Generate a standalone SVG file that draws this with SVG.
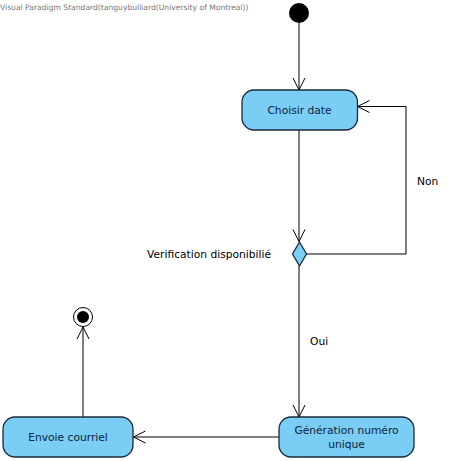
<svg xmlns="http://www.w3.org/2000/svg" width="453" height="461" viewBox="0 0 453 461">
<defs>
<style>
.node{fill:#7acdf4;stroke:#1a2a3a;stroke-width:1.3}
.lbl{font-family:"DejaVu Sans",sans-serif;font-size:10.7px;fill:#0d2340;text-anchor:middle}
.txt{font-family:"DejaVu Sans",sans-serif;font-size:10.7px;fill:#000}
.edge{fill:none;stroke:#000;stroke-width:1}
</style>
<marker id="arr" markerWidth="14" markerHeight="14" viewBox="-13 -7 14 14" refX="0" refY="0" orient="auto" markerUnits="userSpaceOnUse">
<path d="M-12,-6 L0,0 L-12,6" fill="none" stroke="#000" stroke-width="1"/>
</marker>
</defs>
<rect width="453" height="461" fill="#fff"/>
<text x="0" y="10" style="font-family:'DejaVu Sans',sans-serif;font-size:7.6px;fill:#777">Visual Paradigm Standard(tanguybulliard(University of Montreal))</text>
<g id="connectors">
<path class="edge" d="M299,23 L299,90" marker-end="url(#arr)"/>
<path class="edge" d="M299,130 L299,241.5" marker-end="url(#arr)"/>
<path class="edge" d="M306.5,254 L406,254 L406,106.5 L357.5,106.5" marker-end="url(#arr)"/>
<path class="edge" d="M299,266 L299,417" marker-end="url(#arr)"/>
<path class="edge" d="M279,437 L133.5,437" marker-end="url(#arr)"/>
<path class="edge" d="M83,417 L83,327" marker-end="url(#arr)"/>
<text class="txt" x="417" y="185">Non</text>
<text class="txt" x="310" y="345">Oui</text>
</g>
<g id="start"><circle cx="299" cy="13" r="10" fill="#000"/></g>
<g id="choisir">
<rect class="node" x="242" y="90" width="115.5" height="40" rx="12"/>
<text class="lbl" x="299.5" y="114">Choisir date</text>
</g>
<g id="decision">
<polygon class="node" points="299.5,242 306.5,254 299.5,266 292.5,254"/>
<text class="txt" x="147" y="258">Verification disponibilié</text>
</g>
<g id="generation">
<rect class="node" x="279" y="417" width="135" height="40" rx="12"/>
<text class="lbl" x="346.5" y="434">Génération numéro</text>
<text class="lbl" x="346.5" y="448">unique</text>
</g>
<g id="envoie">
<rect class="node" x="3" y="417" width="130" height="40" rx="12"/>
<text class="lbl" x="68" y="441">Envoie courriel</text>
</g>
<g id="final">
<circle cx="83" cy="317" r="9.5" fill="#fff" stroke="#000" stroke-width="1"/>
<circle cx="83" cy="317" r="6" fill="#000"/>
</g>
</svg>
